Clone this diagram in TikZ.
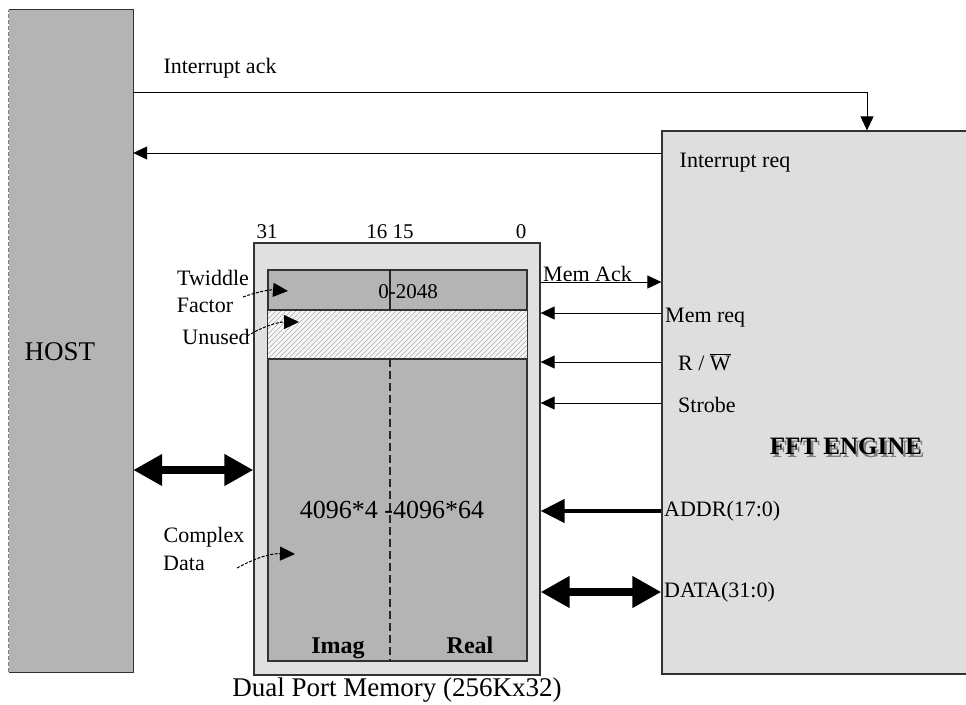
\documentclass[tikz,border=0pt]{standalone}
\usepackage{fontspec}
\setmainfont{Liberation Serif}
\usetikzlibrary{arrows.meta,positioning}
\newcommand\pxsize[1]{\fontsize{#1}{#1}\selectfont}
\definecolor{hostgray}{RGB}{180,180,180}
\definecolor{fftgray}{RGB}{222,222,222}
\definecolor{outgray}{RGB}{224,224,224}
\definecolor{edgegray}{RGB}{50,50,50}
\definecolor{hatchgray}{RGB}{170,170,170}
\begin{document}
\begin{tikzpicture}[x=1pt,y=-1pt,
  box/.style={rectangle,inner sep=0pt,draw=edgegray,line width=1.3pt},
  lbl/.style={inner sep=0pt,font=\pxsize{22}},
  wire/.style={line width=1pt,-{Triangle[length=14pt,width=13pt]}},
  bus/.style={line width=4.5pt,-{Triangle[length=24pt,width=23pt]}},
  dbus/.style={line width=7.5pt,{Triangle[length=29pt,width=30pt]}-{Triangle[length=29pt,width=30pt]}},
  pointer/.style={line width=1pt,dash pattern=on 3pt off 1.5pt,-{Triangle[length=15pt,width=14pt]}}
]
\useasboundingbox (0,0) rectangle (966,704);
\fill[white] (0,0) rectangle (966,704);

% HOST
\node[rectangle,inner sep=0pt,fill=hostgray,minimum width=124pt,minimum height=662pt] (host) at (71,341) {};
\draw[edgegray,line width=1.3pt] (host.north west) -- (host.north east) -- (host.south east) -- (host.south west);
\draw[gray,line width=1pt,dash pattern=on 4pt off 2pt] (host.south west) -- (host.north west);
\node[inner sep=0pt,font=\pxsize{27}] (hosttxt) at (60,352) {HOST};

% FFT engine
\node[box,fill=fftgray,minimum width=310pt,minimum height=543pt] (fft) at (817,402.5) {};
\node[inner sep=0pt,font=\pxsize{25}\bfseries] (ffttxt) at (846,448)
  {\rlap{\hspace{2.5pt}\raisebox{-2.5pt}{\textcolor{gray}{FFT ENGINE}}}FFT ENGINE};

% Memory
\node[box,fill=outgray,minimum width=286pt,minimum height=432pt] (memout) at (397,459) {};
\node[box,fill=hostgray,minimum width=259pt,minimum height=391pt] (meminner) at (397.5,465.5) {};
\coordinate (hatchtop) at (268,310);
\coordinate (hatchbot) at (527,359);
\fill[white!94!gray] (hatchtop) rectangle (hatchbot);
\begin{scope}
  \clip (hatchtop) rectangle (hatchbot);
  \foreach \i in {0,5,...,320} {
    \draw[hatchgray,line width=0.6pt] (218+\i,359) -- ++(49,-49);
  }
\end{scope}
\draw[edgegray,line width=1.3pt] (meminner.west |- hatchtop) -- (meminner.east |- hatchtop);
\draw[edgegray,line width=1.3pt] (meminner.west |- hatchbot) -- (meminner.east |- hatchbot);
\draw[edgegray,line width=1.3pt] (meminner.north west) rectangle (meminner.south east);
\coordinate (divx) at (390,0);
\draw[black!85,line width=1.2pt] (divx |- meminner.north) -- (divx |- hatchtop);
\draw[black!85,line width=1.2pt,dash pattern=on 8pt off 4pt] (divx |- hatchbot) -- (divx |- meminner.south);

\node[inner sep=0pt,font=\pxsize{21}] (b31) at (267,232) {31};
\node[inner sep=0pt,font=\pxsize{21}] (b1615) at (390,232) {16 15};
\node[inner sep=0pt,font=\pxsize{21}] (b0) at (521,232) {0};
\node[inner sep=0pt,font=\pxsize{21}] (tw) at (408,292) {0-2048};
\node[inner sep=0pt,font=\pxsize{26}] (cplx) at (392,510) {4096*4 -4096*64};
\node[inner sep=0pt,font=\pxsize{24}\bfseries,anchor=base] (imag) at (338,653) {Imag};
\node[inner sep=0pt,font=\pxsize{24}\bfseries,anchor=base] (real) at (470,653) {Real};
\node[inner sep=0pt,font=\pxsize{27}] (memtxt) at (397,690) {Dual Port Memory (256Kx32)};

% left labels
\node[lbl] (twid) at (213,278) {Twiddle};
\node[lbl] (fact) at (205,305) {Factor};
\node[lbl] (unus) at (216,337) {Unused};
\node[lbl] (comp) at (204,537) {Complex};
\node[lbl] (data) at (184,563) {Data};
\coordinate (twS) at (243,297);
\coordinate (twT) at (288,291);
\coordinate (unS) at (247,336);
\coordinate (unT) at (299,322);
\coordinate (cdS) at (237,568);
\coordinate (cdT) at (295,554);
\draw[pointer] (twS) to[bend left=12] (twT);
\draw[pointer] (unS) to[bend left=15] (unT);
\draw[pointer] (cdS) to[bend left=15] (cdT);

% interrupt lines
\coordinate (yiack) at (0,92);
\coordinate (xiack) at (867,0);
\coordinate (yireq) at (0,153);
\draw[wire] (host.east |- yiack) -- (xiack |- yiack) -- (xiack |- fft.north);
\node[lbl] (iacktxt) at (220,68) {Interrupt ack};
\draw[wire] (fft.west |- yireq) -- (host.east |- yireq);
\node[lbl] (ireqtxt) at (735,163) {Interrupt req};

% memory control lines
\coordinate (yack) at (0,282);
\coordinate (yreq) at (0,313);
\coordinate (yrw) at (0,362);
\coordinate (ystb) at (0,403);
\coordinate (yaddr) at (0,511);
\coordinate (ydata) at (0,592);
\coordinate (yhost) at (0,470);
\draw[wire] (memout.east |- yack) -- (fft.west |- yack);
\node[lbl,anchor=base west] (acktxt) at (543,281) {Mem Ack};
\draw[wire] (fft.west |- yreq) -- (memout.east |- yreq);
\node[lbl,anchor=west] (reqtxt) at (665,318) {Mem req};
\draw[wire] (fft.west |- yrw) -- (memout.east |- yrw);
\node[lbl,anchor=west] (rwtxt) at (678,362) {R / \(\overline{\hbox{W}}\)};
\draw[wire] (fft.west |- ystb) -- (memout.east |- ystb);
\node[lbl,anchor=west] (stbtxt) at (678,405) {Strobe};
\draw[bus] (fft.west |- yaddr) -- (memout.east |- yaddr);
\node[lbl,anchor=west] (addrtxt) at (664,511) {ADDR(17:0)};
\draw[dbus] (memout.east |- ydata) -- (fft.west |- ydata);
\node[lbl,anchor=west] (datatxt) at (664,592) {DATA(31:0)};
\draw[dbus] (host.east |- yhost) -- (memout.west |- yhost);
\end{tikzpicture}
\end{document}
